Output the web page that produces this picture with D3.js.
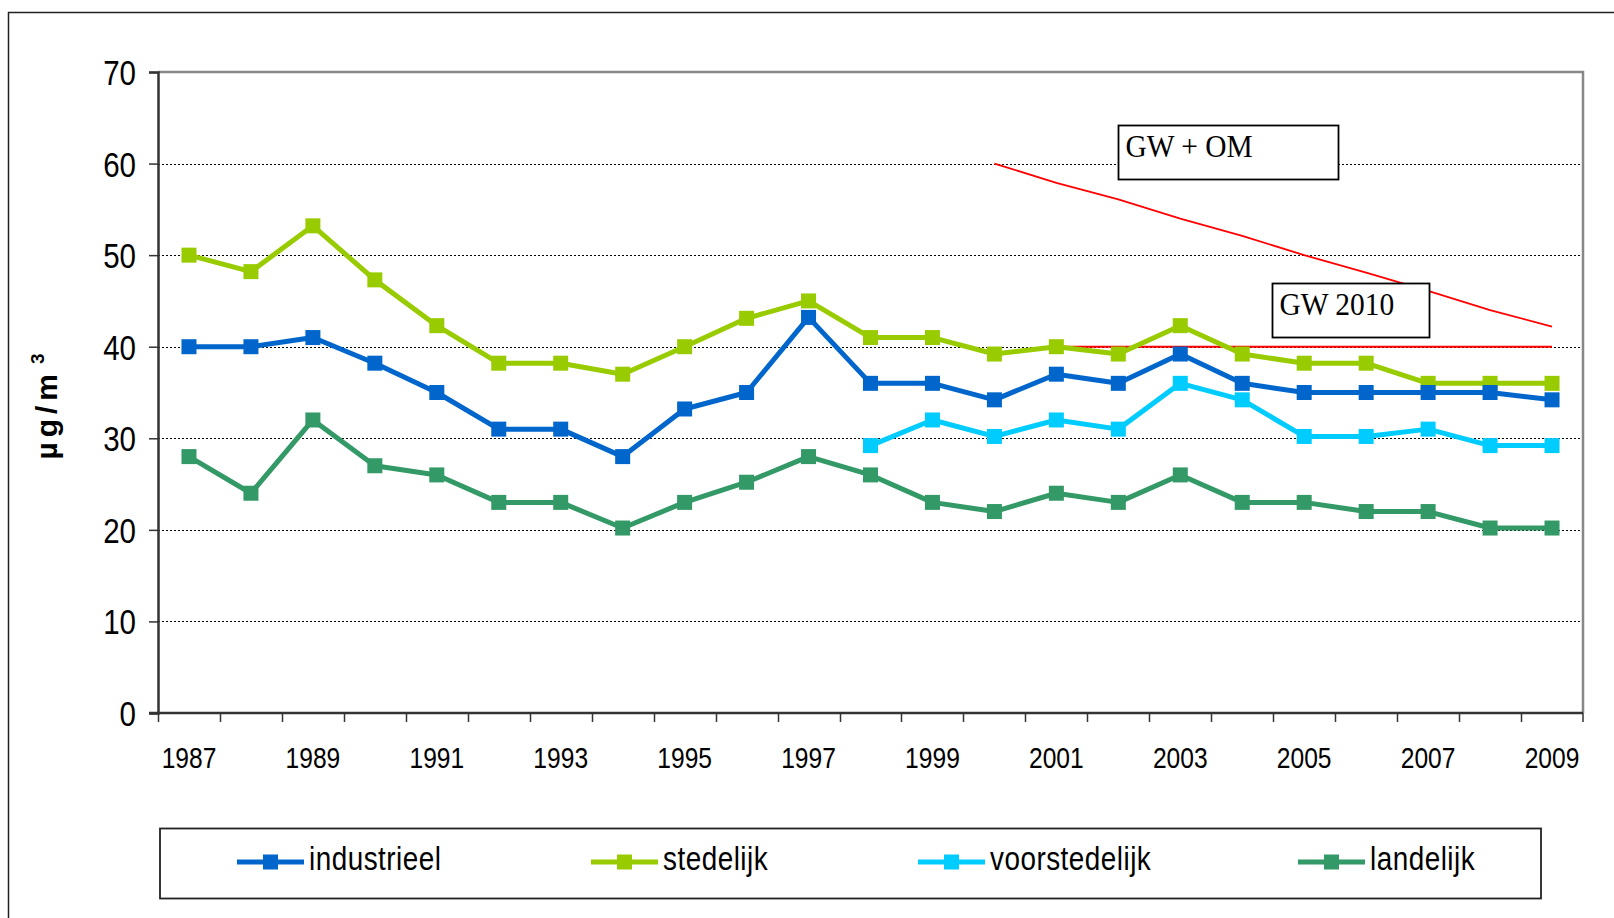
<!DOCTYPE html>
<html>
<head>
<meta charset="utf-8">
<script src="https://cdn.jsdelivr.net/npm/d3@7"></script>
<style>
  body { margin: 0; background: #fff; }
  svg { display: block; }
</style>
</head>
<body>
<div id="chart"></div>
<script>
// jaren op de x-as
var years = d3.range(1987, 2010).map(String);
var yTicks = [0, 10, 20, 30, 40, 50, 60, 70];

// meetreeksen (µg/m³), null = geen meting
var industrieel = [40, 40, 41, 38.2, 35, 31, 31, 28, 33.2, 35, 43.2, 36, 36, 34.2, 37, 36, 39.2, 36, 35, 35, 35, 35, 34.2];
var stedelijk = [50, 48.2, 53.2, 47.3, 42.3, 38.2, 38.2, 37, 40, 43.1, 45, 41, 41, 39.2, 40, 39.2, 42.3, 39.2, 38.2, 38.2, 36, 36, 36];
var voorstedelijk = [null, null, null, null, null, null, null, null, null, null, null, 29.2, 32, 30.2, 32, 31, 36, 34.2, 30.2, 30.2, 31, 29.2, 29.2];
var landelijk = [28, 24, 32, 27, 26, 23, 23, 20.2, 23, 25.2, 28, 26, 23, 22, 24, 23, 26, 23, 23, 22, 22, 20.2, 20.2];

// grenswaarden
var gwOmYears = ["2000", "2001", "2002", "2003", "2004", "2005", "2006", "2007", "2008", "2009"];
var gwOm = [60, 57.9, 56.1, 54, 52.1, 50, 48.1, 46.1, 44, 42.2];
var gw2010Years = ["2001", "2009"];
var gw2010 = [40, 40];

var seriesNames = ["industrieel", "stedelijk", "voorstedelijk", "landelijk"];
var seriesColors = ["#0066cc", "#99cc00", "#00ccff", "#339966"];
var seriesValues = [industrieel, stedelijk, voorstedelijk, landelijk];

var W = 1614, H = 918;
var plot = {left: 158, right: 1583, top: 72, bottom: 713};
var SANS = '"Liberation Sans", Arial, sans-serif';
var SQUEEZE = 0.82; // geen Arial Narrow beschikbaar: horizontaal samendrukken
var MS = 15; // markergrootte

var svg = d3.select("#chart").append("svg")
    .attr("width", W)
    .attr("height", H);

// smalle tekst op positie (x, y)
function narrowText(parent, tx, ty, size, anchor, str) {
    return parent.append("text")
        .attr("transform", "translate(" + tx + "," + ty + ") scale(" + SQUEEZE + ",1)")
        .attr("text-anchor", anchor)
        .attr("font-family", SANS)
        .attr("font-size", size)
        .attr("fill", "#000")
        .text(str);
}

// buitenkader
svg.append("rect")
    .attr("x", 8.5).attr("y", 12.5)
    .attr("width", W + 20).attr("height", H + 20)
    .attr("fill", "none").attr("stroke", "#222").attr("stroke-width", 1.5);

var x = d3.scaleBand()
    .domain(years)
    .range([plot.left, plot.right]);

var y = d3.scaleLinear()
    .domain([0, 70])
    .range([plot.bottom, plot.top]);

function cx(yr) { return x(yr) + x.bandwidth() / 2; }

// gridlijnen
svg.append("g").selectAll("line")
    .data(yTicks.filter(function(d) { return d > 0 && d < 70; }))
    .enter().append("line")
    .attr("x1", plot.left).attr("x2", plot.right)
    .attr("y1", function(d) { return Math.round(y(d)) + 0.5; })
    .attr("y2", function(d) { return Math.round(y(d)) + 0.5; })
    .attr("stroke", "#000").attr("stroke-width", 1)
    .attr("stroke-dasharray", "2,2");

// kader plotgebied (boven + rechts grijs)
svg.append("path")
    .attr("d", "M" + plot.left + "," + plot.top + "H" + plot.right + "V" + plot.bottom)
    .attr("fill", "none").attr("stroke", "#888").attr("stroke-width", 2.5);

// y-as
var yAxis = svg.append("g")
    .attr("transform", "translate(" + plot.left + ",0)")
    .call(d3.axisLeft(y).tickValues(yTicks).tickSize(9).tickFormat(""));
yAxis.select(".domain").attr("stroke", "#333").attr("stroke-width", 2.5);
yAxis.selectAll(".tick line").attr("stroke", "#333").attr("stroke-width", 1.5);
yTicks.forEach(function(t) {
    narrowText(svg, 136, y(t) + 13, 36, "end", String(t));
});

// x-as: streepjes tussen categorieën
var xg = svg.append("g");
xg.append("line")
    .attr("x1", plot.left - 9).attr("x2", plot.right)
    .attr("y1", plot.bottom).attr("y2", plot.bottom)
    .attr("stroke", "#333").attr("stroke-width", 2.5);
xg.selectAll(".tk")
    .data(years.concat(["end"]))
    .enter().append("line")
    .attr("x1", function(d) { return d === "end" ? plot.right : Math.round(x(d)) + 0.5; })
    .attr("x2", function(d) { return d === "end" ? plot.right : Math.round(x(d)) + 0.5; })
    .attr("y1", plot.bottom).attr("y2", plot.bottom + 9)
    .attr("stroke", "#333").attr("stroke-width", 1.5);
years.filter(function(d, i) { return i % 2 === 0; }).forEach(function(d) {
    narrowText(xg, cx(d), 768, 30, "middle", d);
});

// y-as titel
var yt = svg.append("text")
    .attr("transform", "translate(57,404) rotate(-90)")
    .attr("text-anchor", "middle")
    .attr("font-family", SANS)
    .attr("font-weight", "bold")
    .attr("font-size", 30)
    .attr("letter-spacing", 5);
yt.append("tspan").text("µg/m");
yt.append("tspan").attr("font-size", 19).attr("dx", 5).attr("dy", -13).text("3");

// grenswaardelijnen
var line = d3.line()
    .defined(function(d) { return d.v != null; })
    .x(function(d) { return cx(d.k); })
    .y(function(d) { return y(d.v); });

svg.append("path")
    .datum(gwOmYears.map(function(k, i) { return {k: k, v: gwOm[i]}; }))
    .attr("d", line)
    .attr("fill", "none").attr("stroke", "#ff0000").attr("stroke-width", 1.8);
svg.append("path")
    .datum(gw2010Years.map(function(k, i) { return {k: k, v: gw2010[i]}; }))
    .attr("d", line)
    .attr("fill", "none").attr("stroke", "#ff0000").attr("stroke-width", 2);

// reeksen
var drawOrder = [3, 2, 1, 0];
drawOrder.forEach(function(si) {
    var pts = years.map(function(k, i) { return {k: k, v: seriesValues[si][i]}; });
    var g = svg.append("g");
    g.append("path")
        .datum(pts)
        .attr("d", line)
        .attr("fill", "none")
        .attr("stroke", seriesColors[si])
        .attr("stroke-width", 5)
        .attr("stroke-linejoin", "round");
    g.selectAll("rect")
        .data(pts.filter(function(d) { return d.v != null; }))
        .enter().append("rect")
        .attr("x", function(d) { return cx(d.k) - MS / 2; })
        .attr("y", function(d) { return y(d.v) - MS / 2; })
        .attr("width", MS).attr("height", MS)
        .attr("fill", seriesColors[si]);
});

// tekstvakken
var notes = [
    {text: "GW + OM", x: 1118.5, y: 125.5, w: 220, h: 54},
    {text: "GW 2010", x: 1272.5, y: 283.5, w: 157, h: 54}
];
notes.forEach(function(n) {
    svg.append("rect")
        .attr("x", n.x).attr("y", n.y).attr("width", n.w).attr("height", n.h)
        .attr("fill", "#fff").attr("stroke", "#000").attr("stroke-width", 1.8);
    svg.append("text")
        .attr("transform", "translate(" + (n.x + 7) + "," + (n.y + 31) + ") scale(0.95,1.05)")
        .attr("font-family", '"Liberation Serif", "Times New Roman", serif')
        .attr("font-size", 31)
        .text(n.text);
});

// legenda
var legend = svg.append("g");
legend.append("rect")
    .attr("x", 160).attr("y", 828.5).attr("width", 1381).attr("height", 70)
    .attr("fill", "#fff").attr("stroke", "#222").attr("stroke-width", 1.8);
var legendX = [237, 591, 918, 1298];
seriesNames.forEach(function(name, i) {
    var lg = legend.append("g").attr("transform", "translate(" + legendX[i] + ",862)");
    lg.append("line").attr("x1", 0).attr("x2", 67).attr("y1", 0).attr("y2", 0)
        .attr("stroke", seriesColors[i]).attr("stroke-width", 5);
    lg.append("rect").attr("x", 33.5 - MS / 2).attr("y", -MS / 2).attr("width", MS).attr("height", MS)
        .attr("fill", seriesColors[i]);
    narrowText(lg, 72, 8, 34, "start", name).attr("letter-spacing", 0.6);
});
</script>
</body>
</html>
